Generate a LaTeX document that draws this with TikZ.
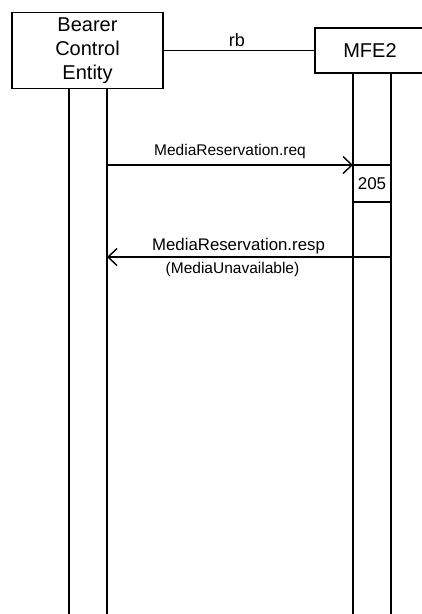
\documentclass[tikz,border=0pt]{standalone}
\usepackage{fontspec}
\setmainfont{Liberation Sans}
\usetikzlibrary{arrows.meta,positioning}

\begin{document}
\begin{tikzpicture}[x=1pt,y=-1pt,line width=1.8pt,
  entity/.style={draw,inner sep=0pt,align=center,font=\fontsize{20}{24}\selectfont},
  msg/.style={-{Straight Barb[length=9pt,width=17pt,line width=1.4pt]}},
  lbl/.style={font=\fontsize{15.5}{18}\selectfont,anchor=base}]
\useasboundingbox (0,0) rectangle (422,614);
\clip (0,0) rectangle (422,614);

% Draw the two entities
\node[entity,minimum width=151pt,minimum height=76pt] (bce) at (87.5,50.5) {Bearer\\Control\\Entity};
\node[entity,minimum width=110pt,minimum height=45pt] (mfe) at (370,50.5) {MFE2};

% Draw the interface between them
\draw (bce.east) -- node[above,font=\fontsize{18}{20}\selectfont,xshift=-2pt,inner sep=3pt] (rb) {rb} (mfe.west);

% Draw the lifelines
\draw ([xshift=-18.5pt]bce.south) -- ++(0,530);
\draw ([xshift=19.5pt]bce.south) -- ++(0,530);
\draw ([xshift=-17pt]mfe.south) -- ++(0,545);
\draw ([xshift=21pt]mfe.south) -- ++(0,545);

% Mark the message end points on the lifelines
\coordinate (reqs) at (107,165);
\coordinate (reqe) at (353,165);
\coordinate (resps) at (391,257);
\coordinate (respe) at (107,257);

% Request and the timer box
\draw[msg] (reqs) -- node[lbl,yshift=10pt] (reqlbl) {MediaReservation.req} (reqe);
\node[draw,inner sep=0pt,outer sep=0pt,minimum width=38pt,minimum height=37pt,anchor=north west,
  font=\fontsize{17}{20}\selectfont] (t205) at (reqe) {205};

% Response
\draw[msg] (resps) -- (respe);
\node[lbl,font=\fontsize{16.8}{18}\selectfont] (resplbl) at (238.5,250.5) {MediaReservation.resp};
\node[lbl] (cause) at (232.5,273) {(MediaUnavailable)};
\end{tikzpicture}
\end{document}
